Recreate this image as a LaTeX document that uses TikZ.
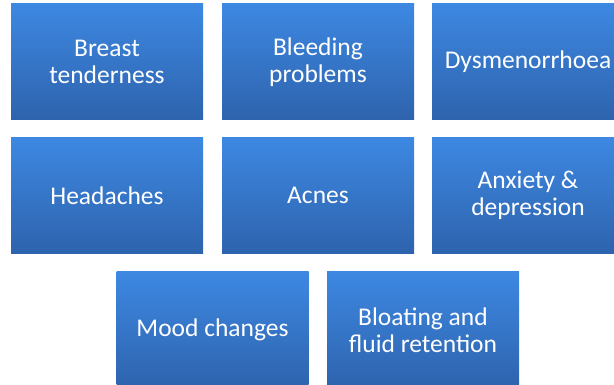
\documentclass[tikz,border=0pt]{standalone}
\usepackage{fontspec}
\setmainfont{Carlito}
\definecolor{boxtop}{HTML}{3D88E2}
\definecolor{boxbot}{HTML}{2E63AD}
\tikzset{
    sympt/.style={rectangle, minimum width=192pt, minimum height=116pt, inner sep=0pt,
        top color=boxtop, bottom color=boxbot, text=white, align=center,
        font=\fontsize{25.5}{27.5}\selectfont}
}

\begin{document}
\begin{tikzpicture}[x=1pt,y=1pt]
    \useasboundingbox (0,0) rectangle (614,-385);
    \clip (0,0) rectangle (614,-385);

    \node[sympt] (breast) at (107,-62) {Breast\\tenderness};
    \node[sympt] (bleed) at (318,-62) {Bleeding\\problems};
    \node[sympt] (dysm) at (528,-62) {Dysmenorrhoea};

    \node[sympt] (head) at (107,-195.5) {Headaches};
    \node[sympt] (acne) at (318,-195.5) {Acnes};
    \node[sympt] (anx) at (528,-195.5) {Anxiety \&\\depression};

    \node[sympt] (mood) at (212.5,-330) {Mood changes};
    \node[sympt] (bloat) at (423,-330) {Bloating and\\fluid retention};
\end{tikzpicture}
\end{document}
